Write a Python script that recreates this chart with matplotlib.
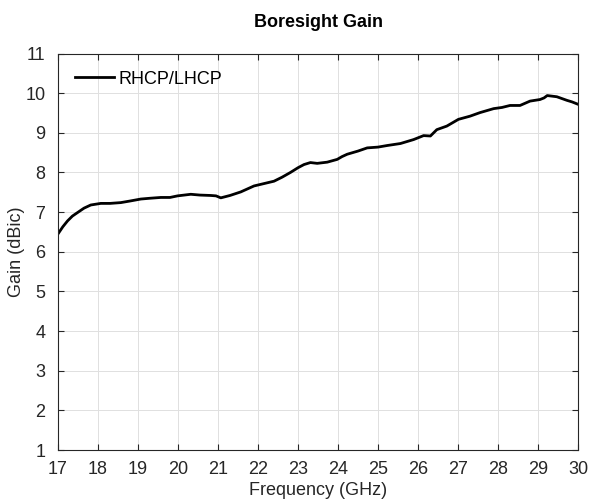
import matplotlib
matplotlib.use("Agg")
import matplotlib.pyplot as plt

plt.rcParams['font.family'] = ['Liberation Sans', 'DejaVu Sans']

# Boresight gain
freq_ghz = [17.0, 17.12, 17.24, 17.36, 17.49, 17.65, 17.82, 18.07, 18.3, 18.57, 18.8,
            19.07, 19.3, 19.57, 19.8, 19.99, 20.32, 20.55, 20.82, 20.95, 21.07,
            21.3, 21.57, 21.9, 22.15, 22.4, 22.6, 22.81, 23.0, 23.15, 23.31,
            23.48, 23.73, 23.98, 24.1, 24.23, 24.5, 24.73, 25.0, 25.23, 25.56,
            25.89, 26.14, 26.31, 26.47, 26.72, 27.01, 27.3, 27.55, 27.89, 28.1,
            28.3, 28.55, 28.8, 29.05, 29.15, 29.23, 29.47, 29.72, 29.85, 30.0]
gain_dbic = [6.45, 6.63, 6.78, 6.9, 6.99, 7.1, 7.18, 7.22, 7.22, 7.24, 7.28,
             7.33, 7.35, 7.37, 7.37, 7.41, 7.45, 7.43, 7.42, 7.41, 7.36,
             7.42, 7.51, 7.66, 7.72, 7.78, 7.88, 8.0, 8.12, 8.2, 8.25,
             8.23, 8.26, 8.33, 8.4, 8.46, 8.54, 8.62, 8.64, 8.68, 8.73,
             8.83, 8.93, 8.92, 9.08, 9.17, 9.34, 9.42, 9.51, 9.61, 9.64,
             9.69, 9.69, 9.8, 9.84, 9.88, 9.94, 9.91, 9.82, 9.78, 9.72]

x_ticks = list(range(17, 31))
y_ticks = list(range(1, 12))

fig = plt.figure(figsize=(5.9, 5.04), dpi=100)
ax = fig.add_axes([0.0983, 0.1071, 0.8814, 0.7867])

ax.plot(freq_ghz, gain_dbic, color='black', linewidth=2, label='RHCP/LHCP')

ax.set_xlim(17, 30)
ax.set_ylim(1, 11)
ax.set_xticks(x_ticks)
ax.set_yticks(y_ticks)
ax.grid(True, color='#e0e0e0', linewidth=0.7)
ax.set_axisbelow(True)

axis_color = '#262626'
for spine in ax.spines.values():
    spine.set_color(axis_color)
    spine.set_linewidth(0.8)
ax.tick_params(direction='in', length=4, width=0.8, colors=axis_color,
               labelsize=13, top=True, right=True)
ax.tick_params(axis='x', pad=8)
ax.tick_params(axis='y', pad=9)

ax.set_xlabel('Frequency (GHz)', fontsize=13, color=axis_color, labelpad=3)
ax.set_ylabel('Gain (dBic)', fontsize=13, color=axis_color, labelpad=0)
ax.set_title('Boresight Gain', fontsize=13, fontweight='bold', pad=19)

leg = ax.legend(loc='upper left', frameon=False, fontsize=13, handlelength=2.15,
                handletextpad=0.25, borderaxespad=0.45, borderpad=0.5)

fig.savefig('out.png', dpi=100)
